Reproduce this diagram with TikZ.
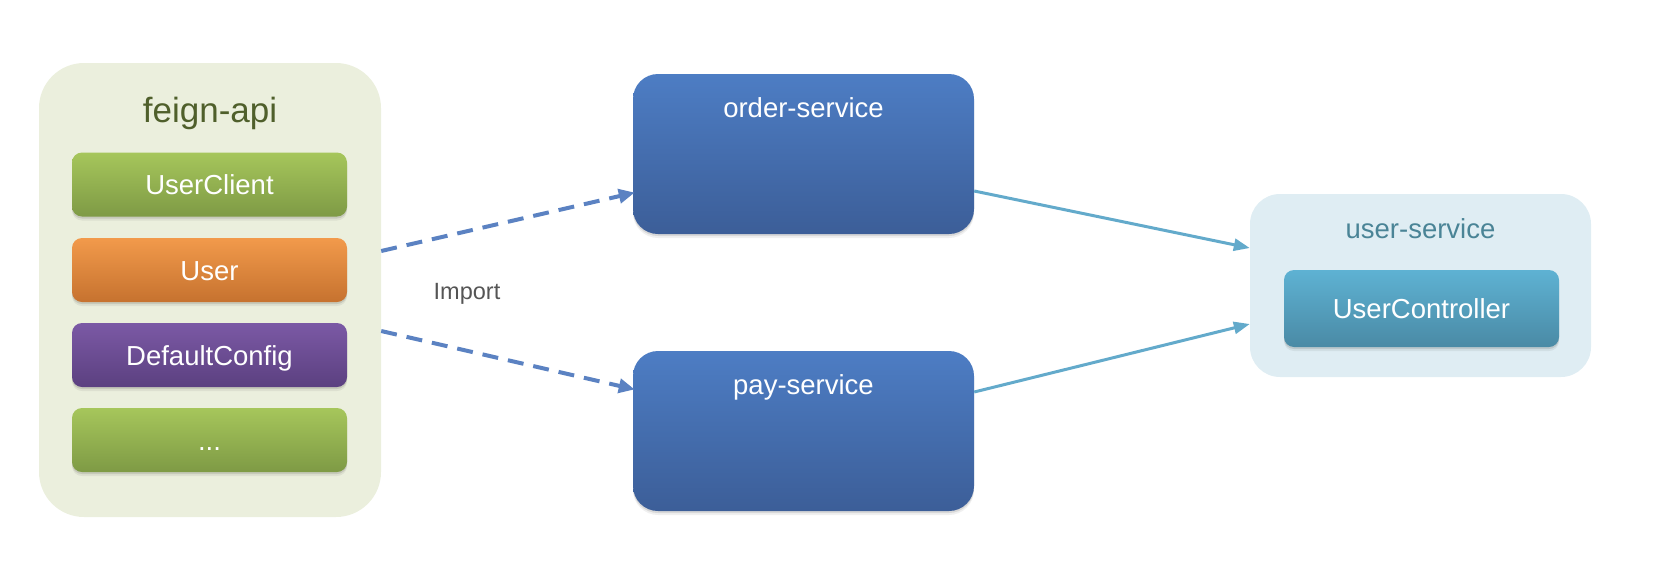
\documentclass[tikz,border=0pt]{standalone}
\usepackage{fontspec}
\setmainfont{Liberation Sans}
\usetikzlibrary{arrows.meta,shadows}

\definecolor{panelgreen}{HTML}{EBEFDD}
\definecolor{titlegreen}{HTML}{4F5F2B}
\definecolor{greentop}{HTML}{A6C65B}
\definecolor{greenbot}{HTML}{7E9A45}
\definecolor{orangetop}{HTML}{F29A4B}
\definecolor{orangebot}{HTML}{C6722F}
\definecolor{purpletop}{HTML}{7B59A5}
\definecolor{purplebot}{HTML}{5B4080}
\definecolor{bluetop}{HTML}{4D7DC4}
\definecolor{bluebot}{HTML}{3C5E98}
\definecolor{dashblue}{HTML}{5B82C2}
\definecolor{callteal}{HTML}{63AACB}
\definecolor{panelblue}{HTML}{DFEDF3}
\definecolor{titleteal}{HTML}{4A8496}
\definecolor{ctrltop}{HTML}{5EB2D3}
\definecolor{ctrlbot}{HTML}{4A8AA5}
\definecolor{importgray}{HTML}{555555}

\tikzset{
  % two faint offset copies give a soft shadow under each box
  softshadow/.style={
      drop shadow={shadow xshift=0pt, shadow yshift=-4pt, fill=black, opacity=0.06},
      drop shadow={shadow xshift=0pt, shadow yshift=-2pt, fill=black, opacity=0.10}},
  itembox/.style={rounded corners=10pt, minimum width=275pt, minimum height=64pt,
      inner sep=0pt, text height=20pt, text depth=0pt, text=white,
      font=\fontsize{27.5}{30}\selectfont, softshadow},
  greenitem/.style={itembox, top color=greentop, bottom color=greenbot},
  orangeitem/.style={itembox, top color=orangetop, bottom color=orangebot},
  purpleitem/.style={itembox, top color=purpletop, bottom color=purplebot},
  servicebox/.style={rounded corners=25pt, minimum width=341pt, minimum height=160pt,
      inner sep=0pt, top color=bluetop, bottom color=bluebot, softshadow},
  boxtitle/.style={anchor=base, inner sep=0pt, font=\fontsize{27.5}{30}\selectfont},
  importarrow/.style={draw=dashblue, line width=4pt, dash pattern=on 16pt off 10pt,
      -{Triangle[length=16pt,width=14pt,fill=dashblue]}, shorten >=-2pt},
  callarrow/.style={draw=callteal, line width=3pt,
      -{Triangle[length=16pt,width=12pt,fill=callteal]}},
}

\begin{document}
\begin{tikzpicture}[x=1pt, y=1pt]
  \useasboundingbox (0,0) rectangle (1654,-568);

  % feign-api module with its shared classes
  \node[fill=panelgreen, rounded corners=45pt, minimum width=342pt, minimum height=454pt,
        inner sep=0pt] (feign) at (210,-290) {};
  \node[boxtitle, text=titlegreen, font=\fontsize{35}{38}\selectfont] (feigntitle)
        at (210,-122) {feign-api};
  \node[greenitem]  (client) at (209.5,-184.5) {UserClient};
  \node[orangeitem] (user)   at (209.5,-270)   {User};
  \node[purpleitem] (config) at (209.5,-355)   {DefaultConfig};
  \node[greenitem]  (more)   at (209.5,-440)   {...};

  % consuming services
  \node[servicebox] (order) at (803.5,-154) {};
  \node[boxtitle, text=white] (ordertitle) at (803.5,-117) {order-service};
  \node[servicebox] (pay) at (803.5,-431) {};
  \node[boxtitle, text=white] (paytitle) at (803.5,-394) {pay-service};

  % provider
  \node[fill=panelblue, rounded corners=30pt, minimum width=341pt, minimum height=183pt,
        inner sep=0pt] (usersvc) at (1420.5,-285.5) {};
  \node[boxtitle, text=titleteal] (usersvctitle) at (1420.5,-238) {user-service};
  \node[itembox, minimum height=77pt, top color=ctrltop, bottom color=ctrlbot]
        (ctrl) at (1421.5,-308.5) {UserController};

  % import relations
  \draw[importarrow] ([yshift=39pt]feign.east) -- ([yshift=-39pt]order.west);
  \draw[importarrow] ([yshift=-41pt]feign.east) -- ([yshift=42pt]pay.west);
  \node[boxtitle, text=importgray, font=\fontsize{23.5}{26}\selectfont] (import)
        at (467,-299) {Import};

  % remote calls
  \draw[callarrow] ([yshift=-37pt]order.east) -- ([yshift=37.5pt]usersvc.west);
  \draw[callarrow] ([yshift=39pt]pay.east) -- ([yshift=-38.5pt]usersvc.west);
\end{tikzpicture}
\end{document}
